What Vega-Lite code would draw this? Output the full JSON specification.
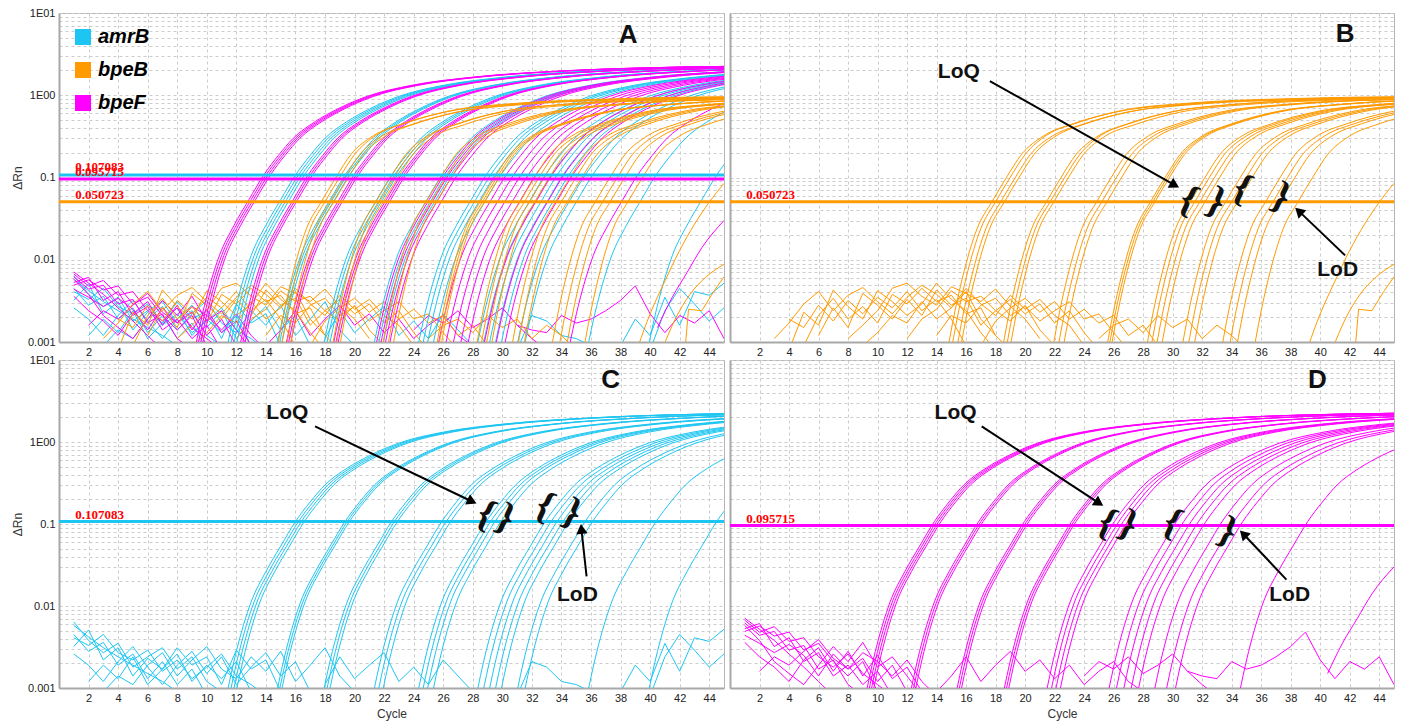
{
"$schema":"https://vega.github.io/schema/vega-lite/v6.json",
"background":"white",
"padding":{"left":10,"top":6,"right":4,"bottom":4},
"config":{
 "view":{"stroke":"#b5b5b5","strokeWidth":1},
 "axis":{"gridColor":"#cccccc","gridDash":[3,3],"gridWidth":1,"domainColor":"#a8a8a8","domainWidth":2,"ticks":false,"labelFont":"Liberation Sans","labelFontSize":11,"labelColor":"#222222","labelPadding":4,"labelOverlap":false,"titleFont":"Liberation Sans","titleFontSize":12,"titleFontWeight":"normal","titleColor":"#333333"},
 "axisY":{"titlePadding":3},
 "axisX":{"titlePadding":5},
 "text":{"font":"Liberation Sans","color":"#111111"}
},
"datasets":{
"bpeB":[
{"s":1,"c":14.55,"v":0.0005},{"s":1,"c":15.25,"v":0.0024},{"s":1,"c":15.75,"v":0.006},{"s":1,"c":16.75,"v":0.024},{"s":1,"c":17.75,"v":0.0507},{"s":1,"c":18.75,"v":0.101},{"s":1,"c":19.75,"v":0.19},{"s":1,"c":21.25,"v":0.32},{"s":1,"c":23.25,"v":0.45},{"s":1,"c":26.25,"v":0.63},{"s":1,"c":30.75,"v":0.78},{"s":1,"c":37.75,"v":0.89},{"s":1,"c":47.75,"v":0.95},
{"s":2,"c":14.8,"v":0.0005},{"s":2,"c":15.5,"v":0.0024},{"s":2,"c":16,"v":0.006},{"s":2,"c":17,"v":0.024},{"s":2,"c":18,"v":0.0507},{"s":2,"c":19,"v":0.101},{"s":2,"c":20,"v":0.19},{"s":2,"c":21.5,"v":0.33},{"s":2,"c":23.5,"v":0.46},{"s":2,"c":26.5,"v":0.65},{"s":2,"c":31,"v":0.8},{"s":2,"c":38,"v":0.91},{"s":2,"c":48,"v":0.97},
{"s":3,"c":15.15,"v":0.0005},{"s":3,"c":15.85,"v":0.0024},{"s":3,"c":16.35,"v":0.006},{"s":3,"c":17.35,"v":0.024},{"s":3,"c":18.35,"v":0.0507},{"s":3,"c":19.35,"v":0.101},{"s":3,"c":20.35,"v":0.19},{"s":3,"c":21.85,"v":0.32},{"s":3,"c":23.85,"v":0.44},{"s":3,"c":26.85,"v":0.62},{"s":3,"c":31.35,"v":0.77},{"s":3,"c":38.35,"v":0.88},{"s":3,"c":48.35,"v":0.94},
{"s":4,"c":15.4,"v":0.0005},{"s":4,"c":16.1,"v":0.0024},{"s":4,"c":16.6,"v":0.006},{"s":4,"c":17.6,"v":0.024},{"s":4,"c":18.6,"v":0.0507},{"s":4,"c":19.6,"v":0.101},{"s":4,"c":20.6,"v":0.19},{"s":4,"c":22.1,"v":0.32},{"s":4,"c":24.1,"v":0.45},{"s":4,"c":27.1,"v":0.63},{"s":4,"c":31.6,"v":0.79},{"s":4,"c":38.6,"v":0.9},{"s":4,"c":48.6,"v":0.96},
{"s":5,"c":18.25,"v":0.0005},{"s":5,"c":18.95,"v":0.0024},{"s":5,"c":19.45,"v":0.006},{"s":5,"c":20.45,"v":0.024},{"s":5,"c":21.45,"v":0.0507},{"s":5,"c":22.45,"v":0.101},{"s":5,"c":23.45,"v":0.19},{"s":5,"c":24.95,"v":0.32},{"s":5,"c":26.95,"v":0.45},{"s":5,"c":29.95,"v":0.63},{"s":5,"c":34.45,"v":0.78},{"s":5,"c":41.45,"v":0.89},{"s":5,"c":51.45,"v":0.95},
{"s":6,"c":18.5,"v":0.0005},{"s":6,"c":19.2,"v":0.0024},{"s":6,"c":19.7,"v":0.006},{"s":6,"c":20.7,"v":0.024},{"s":6,"c":21.7,"v":0.0507},{"s":6,"c":22.7,"v":0.101},{"s":6,"c":23.7,"v":0.19},{"s":6,"c":25.2,"v":0.33},{"s":6,"c":27.2,"v":0.46},{"s":6,"c":30.2,"v":0.64},{"s":6,"c":34.7,"v":0.79},{"s":6,"c":41.7,"v":0.9},{"s":6,"c":51.7,"v":0.96},
{"s":7,"c":18.75,"v":0.0005},{"s":7,"c":19.45,"v":0.0024},{"s":7,"c":19.95,"v":0.006},{"s":7,"c":20.95,"v":0.024},{"s":7,"c":21.95,"v":0.0507},{"s":7,"c":22.95,"v":0.101},{"s":7,"c":23.95,"v":0.19},{"s":7,"c":25.45,"v":0.32},{"s":7,"c":27.45,"v":0.44},{"s":7,"c":30.45,"v":0.62},{"s":7,"c":34.95,"v":0.77},{"s":7,"c":41.95,"v":0.88},{"s":7,"c":51.95,"v":0.94},
{"s":8,"c":21.65,"v":0.0005},{"s":8,"c":22.35,"v":0.0024},{"s":8,"c":22.85,"v":0.006},{"s":8,"c":23.85,"v":0.024},{"s":8,"c":24.85,"v":0.0507},{"s":8,"c":25.85,"v":0.101},{"s":8,"c":26.85,"v":0.19},{"s":8,"c":28.35,"v":0.32},{"s":8,"c":30.35,"v":0.45},{"s":8,"c":33.35,"v":0.63},{"s":8,"c":37.85,"v":0.78},{"s":8,"c":44.85,"v":0.89},{"s":8,"c":54.85,"v":0.95},
{"s":9,"c":22,"v":0.0005},{"s":9,"c":22.7,"v":0.0024},{"s":9,"c":23.2,"v":0.006},{"s":9,"c":24.2,"v":0.024},{"s":9,"c":25.2,"v":0.0507},{"s":9,"c":26.2,"v":0.101},{"s":9,"c":27.2,"v":0.19},{"s":9,"c":28.7,"v":0.32},{"s":9,"c":30.7,"v":0.45},{"s":9,"c":33.7,"v":0.63},{"s":9,"c":38.2,"v":0.78},{"s":9,"c":45.2,"v":0.89},
{"s":10,"c":22.35,"v":0.0005},{"s":10,"c":23.05,"v":0.0024},{"s":10,"c":23.55,"v":0.006},{"s":10,"c":24.55,"v":0.024},{"s":10,"c":25.55,"v":0.0507},{"s":10,"c":26.55,"v":0.101},{"s":10,"c":27.55,"v":0.19},{"s":10,"c":29.05,"v":0.32},{"s":10,"c":31.05,"v":0.45},{"s":10,"c":34.05,"v":0.63},{"s":10,"c":38.55,"v":0.78},{"s":10,"c":45.55,"v":0.89},
{"s":11,"c":25.3,"v":0.0005},{"s":11,"c":26,"v":0.0024},{"s":11,"c":26.5,"v":0.006},{"s":11,"c":27.5,"v":0.024},{"s":11,"c":28.5,"v":0.0507},{"s":11,"c":29.5,"v":0.101},{"s":11,"c":30.5,"v":0.19},{"s":11,"c":32,"v":0.32},{"s":11,"c":34,"v":0.45},{"s":11,"c":37,"v":0.63},{"s":11,"c":41.5,"v":0.78},{"s":11,"c":48.5,"v":0.89},
{"s":12,"c":25.45,"v":0.0005},{"s":12,"c":26.15,"v":0.0024},{"s":12,"c":26.65,"v":0.006},{"s":12,"c":27.65,"v":0.024},{"s":12,"c":28.65,"v":0.0507},{"s":12,"c":29.65,"v":0.101},{"s":12,"c":30.65,"v":0.19},{"s":12,"c":32.15,"v":0.32},{"s":12,"c":34.15,"v":0.45},{"s":12,"c":37.15,"v":0.63},{"s":12,"c":41.65,"v":0.78},{"s":12,"c":48.65,"v":0.89},
{"s":13,"c":25.6,"v":0.0005},{"s":13,"c":26.3,"v":0.0024},{"s":13,"c":26.8,"v":0.006},{"s":13,"c":27.8,"v":0.024},{"s":13,"c":28.8,"v":0.0507},{"s":13,"c":29.8,"v":0.101},{"s":13,"c":30.8,"v":0.19},{"s":13,"c":32.3,"v":0.32},{"s":13,"c":34.3,"v":0.45},{"s":13,"c":37.3,"v":0.63},{"s":13,"c":41.8,"v":0.78},{"s":13,"c":48.8,"v":0.89},
{"s":14,"c":28,"v":0.0005},{"s":14,"c":28.7,"v":0.0024},{"s":14,"c":29.2,"v":0.006},{"s":14,"c":30.2,"v":0.024},{"s":14,"c":31.2,"v":0.0507},{"s":14,"c":32.2,"v":0.101},{"s":14,"c":33.2,"v":0.19},{"s":14,"c":34.7,"v":0.32},{"s":14,"c":36.7,"v":0.45},{"s":14,"c":39.7,"v":0.63},{"s":14,"c":44.2,"v":0.78},{"s":14,"c":51.2,"v":0.89},
{"s":15,"c":28.3,"v":0.0005},{"s":15,"c":29,"v":0.0024},{"s":15,"c":29.5,"v":0.006},{"s":15,"c":30.5,"v":0.024},{"s":15,"c":31.5,"v":0.0507},{"s":15,"c":32.5,"v":0.101},{"s":15,"c":33.5,"v":0.19},{"s":15,"c":35,"v":0.32},{"s":15,"c":37,"v":0.45},{"s":15,"c":40,"v":0.63},{"s":15,"c":44.5,"v":0.78},{"s":15,"c":51.5,"v":0.89},
{"s":16,"c":28.65,"v":0.0005},{"s":16,"c":29.35,"v":0.0024},{"s":16,"c":29.85,"v":0.006},{"s":16,"c":30.85,"v":0.024},{"s":16,"c":31.85,"v":0.0507},{"s":16,"c":32.85,"v":0.101},{"s":16,"c":33.85,"v":0.19},{"s":16,"c":35.35,"v":0.32},{"s":16,"c":37.35,"v":0.45},{"s":16,"c":40.35,"v":0.63},{"s":16,"c":44.85,"v":0.78},{"s":16,"c":51.85,"v":0.89},
{"s":17,"c":29,"v":0.0005},{"s":17,"c":29.7,"v":0.0024},{"s":17,"c":30.2,"v":0.006},{"s":17,"c":31.2,"v":0.024},{"s":17,"c":32.2,"v":0.0507},{"s":17,"c":33.2,"v":0.101},{"s":17,"c":34.2,"v":0.19},{"s":17,"c":35.7,"v":0.32},{"s":17,"c":37.7,"v":0.45},{"s":17,"c":40.7,"v":0.63},{"s":17,"c":45.2,"v":0.78},
{"s":18,"c":30.4,"v":0.0005},{"s":18,"c":31.1,"v":0.0024},{"s":18,"c":31.6,"v":0.006},{"s":18,"c":32.6,"v":0.024},{"s":18,"c":33.6,"v":0.0507},{"s":18,"c":34.6,"v":0.101},{"s":18,"c":35.6,"v":0.19},{"s":18,"c":37.1,"v":0.32},{"s":18,"c":39.1,"v":0.45},{"s":18,"c":42.1,"v":0.63},{"s":18,"c":46.6,"v":0.78},
{"s":19,"c":30.8,"v":0.0005},{"s":19,"c":31.5,"v":0.0024},{"s":19,"c":32,"v":0.006},{"s":19,"c":33,"v":0.024},{"s":19,"c":34,"v":0.0507},{"s":19,"c":35,"v":0.101},{"s":19,"c":36,"v":0.19},{"s":19,"c":37.5,"v":0.32},{"s":19,"c":39.5,"v":0.45},{"s":19,"c":42.5,"v":0.63},{"s":19,"c":47,"v":0.78},
{"s":20,"c":31.2,"v":0.0005},{"s":20,"c":31.9,"v":0.0024},{"s":20,"c":32.4,"v":0.006},{"s":20,"c":33.4,"v":0.024},{"s":20,"c":34.4,"v":0.0507},{"s":20,"c":35.4,"v":0.101},{"s":20,"c":36.4,"v":0.19},{"s":20,"c":37.9,"v":0.32},{"s":20,"c":39.9,"v":0.45},{"s":20,"c":42.9,"v":0.63},{"s":20,"c":47.4,"v":0.78},
{"s":21,"c":33.1,"v":0.0005},{"s":21,"c":33.8,"v":0.0024},{"s":21,"c":34.3,"v":0.006},{"s":21,"c":35.3,"v":0.024},{"s":21,"c":36.3,"v":0.0507},{"s":21,"c":37.3,"v":0.101},{"s":21,"c":38.3,"v":0.19},{"s":21,"c":39.8,"v":0.32},{"s":21,"c":41.8,"v":0.45},{"s":21,"c":44.8,"v":0.63},{"s":21,"c":49.3,"v":0.78},
{"s":22,"c":33.6,"v":0.0005},{"s":22,"c":34.3,"v":0.0024},{"s":22,"c":34.8,"v":0.006},{"s":22,"c":35.8,"v":0.024},{"s":22,"c":36.8,"v":0.0507},{"s":22,"c":37.8,"v":0.101},{"s":22,"c":38.8,"v":0.19},{"s":22,"c":40.3,"v":0.32},{"s":22,"c":42.3,"v":0.45},{"s":22,"c":45.3,"v":0.63},
{"s":23,"c":34.1,"v":0.0005},{"s":23,"c":34.8,"v":0.0024},{"s":23,"c":35.3,"v":0.006},{"s":23,"c":36.3,"v":0.024},{"s":23,"c":37.3,"v":0.0507},{"s":23,"c":38.3,"v":0.101},{"s":23,"c":39.3,"v":0.19},{"s":23,"c":40.8,"v":0.32},{"s":23,"c":42.8,"v":0.45},{"s":23,"c":45.8,"v":0.63},
{"s":24,"c":35.3,"v":0.0005},{"s":24,"c":36,"v":0.0024},{"s":24,"c":36.5,"v":0.006},{"s":24,"c":37.5,"v":0.024},{"s":24,"c":38.5,"v":0.0507},{"s":24,"c":39.5,"v":0.101},{"s":24,"c":40.5,"v":0.19},{"s":24,"c":42,"v":0.32},{"s":24,"c":44,"v":0.45},{"s":24,"c":47,"v":0.63},
{"s":25,"c":39.2,"v":0.0009},{"s":25,"c":40,"v":0.0022},{"s":25,"c":41,"v":0.0055},{"s":25,"c":42,"v":0.013},{"s":25,"c":43,"v":0.027},{"s":25,"c":44,"v":0.05},{"s":25,"c":45,"v":0.085},
{"s":26,"c":40.8,"v":0.0008},{"s":26,"c":41.7,"v":0.0019},{"s":26,"c":42.7,"v":0.0038},{"s":26,"c":43.8,"v":0.0062},{"s":26,"c":45,"v":0.0088}
],
"bpeBn":[
{"s":1,"c":4,"v":0.0019},{"s":1,"c":5,"v":0.0015},{"s":1,"c":6,"v":0.0028},{"s":1,"c":7,"v":0.0018},{"s":1,"c":8,"v":0.0032},{"s":1,"c":9,"v":0.0022},{"s":1,"c":10,"v":0.0035},{"s":1,"c":11,"v":0.0026},{"s":1,"c":12,"v":0.0041},{"s":1,"c":13,"v":0.0024},{"s":1,"c":14,"v":0.0033},{"s":1,"c":15,"v":0.0019},{"s":1,"c":16,"v":0.0009},
{"s":2,"c":5,"v":0.0009},{"s":2,"c":6,"v":0.0021},{"s":2,"c":7,"v":0.0034},{"s":2,"c":8,"v":0.0019},{"s":2,"c":9,"v":0.0027},{"s":2,"c":10,"v":0.0017},{"s":2,"c":11,"v":0.0038},{"s":2,"c":12,"v":0.0029},{"s":2,"c":13,"v":0.0045},{"s":2,"c":14,"v":0.0031},{"s":2,"c":15,"v":0.0037},{"s":2,"c":16,"v":0.0022},{"s":2,"c":17,"v":0.0026},{"s":2,"c":18,"v":0.0012},{"s":2,"c":19,"v":0.0008},
{"s":3,"c":6,"v":0.0012},{"s":3,"c":7,"v":0.0026},{"s":3,"c":8,"v":0.0015},{"s":3,"c":9,"v":0.0039},{"s":3,"c":10,"v":0.0028},{"s":3,"c":11,"v":0.0019},{"s":3,"c":12,"v":0.0033},{"s":3,"c":13,"v":0.0021},{"s":3,"c":14,"v":0.0043},{"s":3,"c":15,"v":0.0028},{"s":3,"c":16,"v":0.0034},{"s":3,"c":17,"v":0.0016},{"s":3,"c":18,"v":0.0024},{"s":3,"c":19,"v":0.0018},{"s":3,"c":20,"v":0.0028},{"s":3,"c":21,"v":0.0014},{"s":3,"c":22,"v":0.0009},
{"s":4,"c":12,"v":0.0011},{"s":4,"c":13,"v":0.0019},{"s":4,"c":14,"v":0.0025},{"s":4,"c":15,"v":0.0042},{"s":4,"c":16,"v":0.0031},{"s":4,"c":17,"v":0.0036},{"s":4,"c":18,"v":0.0024},{"s":4,"c":19,"v":0.0033},{"s":4,"c":20,"v":0.0022},{"s":4,"c":21,"v":0.0029},{"s":4,"c":22,"v":0.0017},{"s":4,"c":23,"v":0.0024},{"s":4,"c":24,"v":0.0013},{"s":4,"c":25,"v":0.0008},
{"s":5,"c":17,"v":0.0009},{"s":5,"c":18,"v":0.0018},{"s":5,"c":19,"v":0.0026},{"s":5,"c":20,"v":0.0034},{"s":5,"c":21,"v":0.0023},{"s":5,"c":22,"v":0.0031},{"s":5,"c":23,"v":0.0019},{"s":5,"c":24,"v":0.0025},{"s":5,"c":25,"v":0.0017},{"s":5,"c":26,"v":0.0021},{"s":5,"c":27,"v":0.0012},{"s":5,"c":28,"v":0.0016},{"s":5,"c":29,"v":0.0009},
{"s":6,"c":8,"v":0.0011},{"s":6,"c":9,"v":0.0016},{"s":6,"c":10,"v":0.0024},{"s":6,"c":11,"v":0.0045},{"s":6,"c":12,"v":0.0052},{"s":6,"c":13,"v":0.0036},{"s":6,"c":14,"v":0.0028},{"s":6,"c":15,"v":0.0047},{"s":6,"c":16,"v":0.0039},{"s":6,"c":17,"v":0.0031},{"s":6,"c":18,"v":0.0044},{"s":6,"c":19,"v":0.0027},{"s":6,"c":20,"v":0.0019},{"s":6,"c":21,"v":0.0011},
{"s":7,"c":25,"v":0.0011},{"s":7,"c":26,"v":0.0016},{"s":7,"c":27,"v":0.0019},{"s":7,"c":28,"v":0.0013},{"s":7,"c":29,"v":0.0021},{"s":7,"c":30,"v":0.0015},{"s":7,"c":31,"v":0.0019},{"s":7,"c":32,"v":0.0011},{"s":7,"c":33,"v":0.0016},{"s":7,"c":34,"v":0.0012},{"s":7,"c":35,"v":0.0008},
{"s":8,"c":42.3,"v":0.0006},{"s":8,"c":42.6,"v":0.0025},{"s":8,"c":43.5,"v":0.0024},{"s":8,"c":44.3,"v":0.0041},{"s":8,"c":45,"v":0.0062},
{"s":9,"c":3,"v":0.0011},{"s":9,"c":4,"v":0.0017},{"s":9,"c":5,"v":0.0029},{"s":9,"c":6,"v":0.0041},{"s":9,"c":7,"v":0.0024},{"s":9,"c":8,"v":0.0037},{"s":9,"c":9,"v":0.0046},{"s":9,"c":10,"v":0.0031},{"s":9,"c":11,"v":0.0022},{"s":9,"c":12,"v":0.0035},{"s":9,"c":13,"v":0.0049},{"s":9,"c":14,"v":0.0038},{"s":9,"c":15,"v":0.0026},{"s":9,"c":16,"v":0.0041},{"s":9,"c":17,"v":0.0019},{"s":9,"c":18,"v":0.0012},
{"s":10,"c":4,"v":0.0008},{"s":10,"c":5,"v":0.0023},{"s":10,"c":6,"v":0.0016},{"s":10,"c":7,"v":0.0043},{"s":10,"c":8,"v":0.0027},{"s":10,"c":9,"v":0.0019},{"s":10,"c":10,"v":0.0042},{"s":10,"c":11,"v":0.0031},{"s":10,"c":12,"v":0.0021},{"s":10,"c":13,"v":0.0029},{"s":10,"c":14,"v":0.0052},{"s":10,"c":15,"v":0.0033},{"s":10,"c":16,"v":0.0024},{"s":10,"c":17,"v":0.0013},{"s":10,"c":18,"v":0.0008},
{"s":11,"c":9,"v":0.0009},{"s":11,"c":10,"v":0.0013},{"s":11,"c":11,"v":0.0021},{"s":11,"c":12,"v":0.0017},{"s":11,"c":13,"v":0.0031},{"s":11,"c":14,"v":0.0019},{"s":11,"c":15,"v":0.0026},{"s":11,"c":16,"v":0.0045},{"s":11,"c":17,"v":0.0029},{"s":11,"c":18,"v":0.0021},{"s":11,"c":19,"v":0.0037},{"s":11,"c":20,"v":0.0025},{"s":11,"c":21,"v":0.0033},{"s":11,"c":22,"v":0.0021},{"s":11,"c":23,"v":0.0016},{"s":11,"c":24,"v":0.0009},
{"s":12,"c":14,"v":0.0012},{"s":12,"c":15,"v":0.0021},{"s":12,"c":16,"v":0.0017},{"s":12,"c":17,"v":0.0028},{"s":12,"c":18,"v":0.0034},{"s":12,"c":19,"v":0.0021},{"s":12,"c":20,"v":0.0027},{"s":12,"c":21,"v":0.0018},{"s":12,"c":22,"v":0.0024},{"s":12,"c":23,"v":0.0031},{"s":12,"c":24,"v":0.0019},{"s":12,"c":25,"v":0.0022},{"s":12,"c":26,"v":0.0013},{"s":12,"c":27,"v":0.0008}
],
"amrB":[
{"s":1,"c":11,"v":0.0004},{"s":1,"c":12,"v":0.0028},{"s":1,"c":13,"v":0.0112},{"s":1,"c":14,"v":0.0263},{"s":1,"c":15,"v":0.0537},{"s":1,"c":16,"v":0.107},{"s":1,"c":17,"v":0.186},{"s":1,"c":18,"v":0.3},{"s":1,"c":19.5,"v":0.48},{"s":1,"c":21,"v":0.68},{"s":1,"c":23,"v":0.97},{"s":1,"c":26,"v":1.32},{"s":1,"c":30,"v":1.65},{"s":1,"c":36,"v":1.97},{"s":1,"c":44,"v":2.2},{"s":1,"c":52,"v":2.28},
{"s":2,"c":11.2,"v":0.0004},{"s":2,"c":12.2,"v":0.0028},{"s":2,"c":13.2,"v":0.0112},{"s":2,"c":14.2,"v":0.0263},{"s":2,"c":15.2,"v":0.0537},{"s":2,"c":16.2,"v":0.107},{"s":2,"c":17.2,"v":0.186},{"s":2,"c":18.2,"v":0.3},{"s":2,"c":19.7,"v":0.48},{"s":2,"c":21.2,"v":0.68},{"s":2,"c":23.2,"v":0.97},{"s":2,"c":26.2,"v":1.32},{"s":2,"c":30.2,"v":1.65},{"s":2,"c":36.2,"v":1.97},{"s":2,"c":44.2,"v":2.2},{"s":2,"c":52.2,"v":2.28},
{"s":3,"c":11.4,"v":0.0004},{"s":3,"c":12.4,"v":0.0028},{"s":3,"c":13.4,"v":0.0112},{"s":3,"c":14.4,"v":0.0263},{"s":3,"c":15.4,"v":0.0537},{"s":3,"c":16.4,"v":0.107},{"s":3,"c":17.4,"v":0.186},{"s":3,"c":18.4,"v":0.3},{"s":3,"c":19.9,"v":0.48},{"s":3,"c":21.4,"v":0.68},{"s":3,"c":23.4,"v":0.97},{"s":3,"c":26.4,"v":1.32},{"s":3,"c":30.4,"v":1.65},{"s":3,"c":36.4,"v":1.97},{"s":3,"c":44.4,"v":2.2},{"s":3,"c":52.4,"v":2.28},
{"s":4,"c":11.6,"v":0.0004},{"s":4,"c":12.6,"v":0.0028},{"s":4,"c":13.6,"v":0.0112},{"s":4,"c":14.6,"v":0.0263},{"s":4,"c":15.6,"v":0.0537},{"s":4,"c":16.6,"v":0.107},{"s":4,"c":17.6,"v":0.186},{"s":4,"c":18.6,"v":0.3},{"s":4,"c":20.1,"v":0.48},{"s":4,"c":21.6,"v":0.68},{"s":4,"c":23.6,"v":0.97},{"s":4,"c":26.6,"v":1.32},{"s":4,"c":30.6,"v":1.65},{"s":4,"c":36.6,"v":1.97},{"s":4,"c":44.6,"v":2.2},{"s":4,"c":52.6,"v":2.28},
{"s":5,"c":14.35,"v":0.0004},{"s":5,"c":15.35,"v":0.0028},{"s":5,"c":16.35,"v":0.0112},{"s":5,"c":17.35,"v":0.0263},{"s":5,"c":18.35,"v":0.0537},{"s":5,"c":19.35,"v":0.107},{"s":5,"c":20.35,"v":0.186},{"s":5,"c":21.35,"v":0.3},{"s":5,"c":22.85,"v":0.48},{"s":5,"c":24.35,"v":0.68},{"s":5,"c":26.35,"v":0.97},{"s":5,"c":29.35,"v":1.32},{"s":5,"c":33.35,"v":1.65},{"s":5,"c":39.35,"v":1.97},{"s":5,"c":47.35,"v":2.2},
{"s":6,"c":14.5,"v":0.0004},{"s":6,"c":15.5,"v":0.0028},{"s":6,"c":16.5,"v":0.0112},{"s":6,"c":17.5,"v":0.0263},{"s":6,"c":18.5,"v":0.0537},{"s":6,"c":19.5,"v":0.107},{"s":6,"c":20.5,"v":0.186},{"s":6,"c":21.5,"v":0.3},{"s":6,"c":23,"v":0.48},{"s":6,"c":24.5,"v":0.68},{"s":6,"c":26.5,"v":0.97},{"s":6,"c":29.5,"v":1.32},{"s":6,"c":33.5,"v":1.65},{"s":6,"c":39.5,"v":1.97},{"s":6,"c":47.5,"v":2.2},
{"s":7,"c":14.65,"v":0.0004},{"s":7,"c":15.65,"v":0.0028},{"s":7,"c":16.65,"v":0.0112},{"s":7,"c":17.65,"v":0.0263},{"s":7,"c":18.65,"v":0.0537},{"s":7,"c":19.65,"v":0.107},{"s":7,"c":20.65,"v":0.186},{"s":7,"c":21.65,"v":0.3},{"s":7,"c":23.15,"v":0.48},{"s":7,"c":24.65,"v":0.68},{"s":7,"c":26.65,"v":0.97},{"s":7,"c":29.65,"v":1.32},{"s":7,"c":33.65,"v":1.65},{"s":7,"c":39.65,"v":1.97},{"s":7,"c":47.65,"v":2.2},
{"s":8,"c":17.5,"v":0.0004},{"s":8,"c":18.5,"v":0.0028},{"s":8,"c":19.5,"v":0.0112},{"s":8,"c":20.5,"v":0.0263},{"s":8,"c":21.5,"v":0.0537},{"s":8,"c":22.5,"v":0.107},{"s":8,"c":23.5,"v":0.186},{"s":8,"c":24.5,"v":0.3},{"s":8,"c":26,"v":0.48},{"s":8,"c":27.5,"v":0.68},{"s":8,"c":29.5,"v":0.97},{"s":8,"c":32.5,"v":1.32},{"s":8,"c":36.5,"v":1.65},{"s":8,"c":42.5,"v":1.97},{"s":8,"c":50.5,"v":2.2},
{"s":9,"c":17.7,"v":0.0004},{"s":9,"c":18.7,"v":0.0028},{"s":9,"c":19.7,"v":0.0112},{"s":9,"c":20.7,"v":0.0263},{"s":9,"c":21.7,"v":0.0537},{"s":9,"c":22.7,"v":0.107},{"s":9,"c":23.7,"v":0.186},{"s":9,"c":24.7,"v":0.3},{"s":9,"c":26.2,"v":0.48},{"s":9,"c":27.7,"v":0.68},{"s":9,"c":29.7,"v":0.97},{"s":9,"c":32.7,"v":1.32},{"s":9,"c":36.7,"v":1.65},{"s":9,"c":42.7,"v":1.97},{"s":9,"c":50.7,"v":2.2},
{"s":10,"c":17.9,"v":0.0004},{"s":10,"c":18.9,"v":0.0028},{"s":10,"c":19.9,"v":0.0112},{"s":10,"c":20.9,"v":0.0263},{"s":10,"c":21.9,"v":0.0537},{"s":10,"c":22.9,"v":0.107},{"s":10,"c":23.9,"v":0.186},{"s":10,"c":24.9,"v":0.3},{"s":10,"c":26.4,"v":0.48},{"s":10,"c":27.9,"v":0.68},{"s":10,"c":29.9,"v":0.97},{"s":10,"c":32.9,"v":1.32},{"s":10,"c":36.9,"v":1.65},{"s":10,"c":42.9,"v":1.97},{"s":10,"c":50.9,"v":2.2},
{"s":11,"c":20.9,"v":0.0004},{"s":11,"c":21.9,"v":0.0028},{"s":11,"c":22.9,"v":0.0112},{"s":11,"c":23.9,"v":0.0263},{"s":11,"c":24.9,"v":0.0537},{"s":11,"c":25.9,"v":0.107},{"s":11,"c":26.9,"v":0.186},{"s":11,"c":27.9,"v":0.3},{"s":11,"c":29.4,"v":0.48},{"s":11,"c":30.9,"v":0.68},{"s":11,"c":32.9,"v":0.97},{"s":11,"c":35.9,"v":1.32},{"s":11,"c":39.9,"v":1.65},{"s":11,"c":45.9,"v":1.97},
{"s":12,"c":21.2,"v":0.0004},{"s":12,"c":22.2,"v":0.0028},{"s":12,"c":23.2,"v":0.0112},{"s":12,"c":24.2,"v":0.0263},{"s":12,"c":25.2,"v":0.0537},{"s":12,"c":26.2,"v":0.107},{"s":12,"c":27.2,"v":0.186},{"s":12,"c":28.2,"v":0.3},{"s":12,"c":29.7,"v":0.48},{"s":12,"c":31.2,"v":0.68},{"s":12,"c":33.2,"v":0.97},{"s":12,"c":36.2,"v":1.32},{"s":12,"c":40.2,"v":1.65},{"s":12,"c":46.2,"v":1.97},
{"s":13,"c":21.5,"v":0.0004},{"s":13,"c":22.5,"v":0.0028},{"s":13,"c":23.5,"v":0.0112},{"s":13,"c":24.5,"v":0.0263},{"s":13,"c":25.5,"v":0.0537},{"s":13,"c":26.5,"v":0.107},{"s":13,"c":27.5,"v":0.186},{"s":13,"c":28.5,"v":0.3},{"s":13,"c":30,"v":0.48},{"s":13,"c":31.5,"v":0.68},{"s":13,"c":33.5,"v":0.97},{"s":13,"c":36.5,"v":1.32},{"s":13,"c":40.5,"v":1.65},{"s":13,"c":46.5,"v":1.97},
{"s":14,"c":23.9,"v":0.0004},{"s":14,"c":24.9,"v":0.0028},{"s":14,"c":25.9,"v":0.0112},{"s":14,"c":26.9,"v":0.0263},{"s":14,"c":27.9,"v":0.0537},{"s":14,"c":28.9,"v":0.107},{"s":14,"c":29.9,"v":0.186},{"s":14,"c":30.9,"v":0.3},{"s":14,"c":32.4,"v":0.48},{"s":14,"c":33.9,"v":0.68},{"s":14,"c":35.9,"v":0.97},{"s":14,"c":38.9,"v":1.32},{"s":14,"c":42.9,"v":1.65},{"s":14,"c":48.9,"v":1.97},
{"s":15,"c":24.2,"v":0.0004},{"s":15,"c":25.2,"v":0.0028},{"s":15,"c":26.2,"v":0.0112},{"s":15,"c":27.2,"v":0.0263},{"s":15,"c":28.2,"v":0.0537},{"s":15,"c":29.2,"v":0.107},{"s":15,"c":30.2,"v":0.186},{"s":15,"c":31.2,"v":0.3},{"s":15,"c":32.7,"v":0.48},{"s":15,"c":34.2,"v":0.68},{"s":15,"c":36.2,"v":0.97},{"s":15,"c":39.2,"v":1.32},{"s":15,"c":43.2,"v":1.65},{"s":15,"c":49.2,"v":1.97},
{"s":16,"c":24.5,"v":0.0004},{"s":16,"c":25.5,"v":0.0028},{"s":16,"c":26.5,"v":0.0112},{"s":16,"c":27.5,"v":0.0263},{"s":16,"c":28.5,"v":0.0537},{"s":16,"c":29.5,"v":0.107},{"s":16,"c":30.5,"v":0.186},{"s":16,"c":31.5,"v":0.3},{"s":16,"c":33,"v":0.48},{"s":16,"c":34.5,"v":0.68},{"s":16,"c":36.5,"v":0.97},{"s":16,"c":39.5,"v":1.32},{"s":16,"c":43.5,"v":1.65},{"s":16,"c":49.5,"v":1.97},
{"s":17,"c":24.9,"v":0.0004},{"s":17,"c":25.9,"v":0.0028},{"s":17,"c":26.9,"v":0.0112},{"s":17,"c":27.9,"v":0.0263},{"s":17,"c":28.9,"v":0.0537},{"s":17,"c":29.9,"v":0.107},{"s":17,"c":30.9,"v":0.186},{"s":17,"c":31.9,"v":0.3},{"s":17,"c":33.4,"v":0.48},{"s":17,"c":34.9,"v":0.68},{"s":17,"c":36.9,"v":0.97},{"s":17,"c":39.9,"v":1.32},{"s":17,"c":43.9,"v":1.65},{"s":17,"c":49.9,"v":1.97},
{"s":18,"c":27.9,"v":0.0004},{"s":18,"c":28.9,"v":0.0028},{"s":18,"c":29.9,"v":0.0112},{"s":18,"c":30.9,"v":0.0263},{"s":18,"c":31.9,"v":0.0537},{"s":18,"c":32.9,"v":0.107},{"s":18,"c":33.9,"v":0.186},{"s":18,"c":34.9,"v":0.3},{"s":18,"c":36.4,"v":0.48},{"s":18,"c":37.9,"v":0.68},{"s":18,"c":39.9,"v":0.97},{"s":18,"c":42.9,"v":1.32},{"s":18,"c":46.9,"v":1.65},
{"s":19,"c":28.3,"v":0.0004},{"s":19,"c":29.3,"v":0.0028},{"s":19,"c":30.3,"v":0.0112},{"s":19,"c":31.3,"v":0.0263},{"s":19,"c":32.3,"v":0.0537},{"s":19,"c":33.3,"v":0.107},{"s":19,"c":34.3,"v":0.186},{"s":19,"c":35.3,"v":0.3},{"s":19,"c":36.8,"v":0.48},{"s":19,"c":38.3,"v":0.68},{"s":19,"c":40.3,"v":0.97},{"s":19,"c":43.3,"v":1.32},{"s":19,"c":47.3,"v":1.65},
{"s":20,"c":28.7,"v":0.0004},{"s":20,"c":29.7,"v":0.0028},{"s":20,"c":30.7,"v":0.0112},{"s":20,"c":31.7,"v":0.0263},{"s":20,"c":32.7,"v":0.0537},{"s":20,"c":33.7,"v":0.107},{"s":20,"c":34.7,"v":0.186},{"s":20,"c":35.7,"v":0.3},{"s":20,"c":37.2,"v":0.48},{"s":20,"c":38.7,"v":0.68},{"s":20,"c":40.7,"v":0.97},{"s":20,"c":43.7,"v":1.32},{"s":20,"c":47.7,"v":1.65},
{"s":21,"c":29.1,"v":0.0004},{"s":21,"c":30.1,"v":0.0028},{"s":21,"c":31.1,"v":0.0112},{"s":21,"c":32.1,"v":0.0263},{"s":21,"c":33.1,"v":0.0537},{"s":21,"c":34.1,"v":0.107},{"s":21,"c":35.1,"v":0.186},{"s":21,"c":36.1,"v":0.3},{"s":21,"c":37.6,"v":0.48},{"s":21,"c":39.1,"v":0.68},{"s":21,"c":41.1,"v":0.97},{"s":21,"c":44.1,"v":1.32},{"s":21,"c":48.1,"v":1.65},
{"s":22,"c":29.5,"v":0.0004},{"s":22,"c":30.5,"v":0.0028},{"s":22,"c":31.5,"v":0.0112},{"s":22,"c":32.5,"v":0.0263},{"s":22,"c":33.5,"v":0.0537},{"s":22,"c":34.5,"v":0.107},{"s":22,"c":35.5,"v":0.186},{"s":22,"c":36.5,"v":0.3},{"s":22,"c":38,"v":0.48},{"s":22,"c":39.5,"v":0.68},{"s":22,"c":41.5,"v":0.97},{"s":22,"c":44.5,"v":1.32},{"s":22,"c":48.5,"v":1.65},
{"s":23,"c":30.6,"v":0.0004},{"s":23,"c":31.6,"v":0.0028},{"s":23,"c":32.6,"v":0.0112},{"s":23,"c":33.6,"v":0.0263},{"s":23,"c":34.6,"v":0.0537},{"s":23,"c":35.6,"v":0.107},{"s":23,"c":36.6,"v":0.186},{"s":23,"c":37.6,"v":0.3},{"s":23,"c":39.1,"v":0.48},{"s":23,"c":40.6,"v":0.68},{"s":23,"c":42.6,"v":0.97},{"s":23,"c":45.6,"v":1.32},
{"s":24,"c":31.1,"v":0.0004},{"s":24,"c":32.1,"v":0.0028},{"s":24,"c":33.1,"v":0.0112},{"s":24,"c":34.1,"v":0.0263},{"s":24,"c":35.1,"v":0.0537},{"s":24,"c":36.1,"v":0.107},{"s":24,"c":37.1,"v":0.186},{"s":24,"c":38.1,"v":0.3},{"s":24,"c":39.6,"v":0.48},{"s":24,"c":41.1,"v":0.68},{"s":24,"c":43.1,"v":0.97},{"s":24,"c":46.1,"v":1.32},
{"s":25,"c":35.4,"v":0.0004},{"s":25,"c":36.4,"v":0.0028},{"s":25,"c":37.4,"v":0.0112},{"s":25,"c":38.4,"v":0.0263},{"s":25,"c":39.4,"v":0.0537},{"s":25,"c":40.4,"v":0.107},{"s":25,"c":41.4,"v":0.186},{"s":25,"c":42.4,"v":0.3},{"s":25,"c":43.9,"v":0.48},{"s":25,"c":45.4,"v":0.68},
{"s":26,"c":39.5,"v":0.0004},{"s":26,"c":40.5,"v":0.0028},{"s":26,"c":41.5,"v":0.0112},{"s":26,"c":42.5,"v":0.0263},{"s":26,"c":43.5,"v":0.0537},{"s":26,"c":44.5,"v":0.107},{"s":26,"c":45.5,"v":0.186}
],
"amrBn":[
{"s":1,"c":1,"v":0.0058},{"s":1,"c":2,"v":0.0042},{"s":1,"c":3,"v":0.0031},{"s":1,"c":4,"v":0.0024},{"s":1,"c":5,"v":0.0019},{"s":1,"c":6,"v":0.0015},{"s":1,"c":7,"v":0.0012},{"s":1,"c":8,"v":0.0009},
{"s":2,"c":1,"v":0.0045},{"s":2,"c":2,"v":0.0028},{"s":2,"c":3,"v":0.0036},{"s":2,"c":4,"v":0.0019},{"s":2,"c":5,"v":0.0026},{"s":2,"c":6,"v":0.0013},{"s":2,"c":7,"v":0.0021},{"s":2,"c":8,"v":0.0011},{"s":2,"c":9,"v":0.0017},{"s":2,"c":10,"v":0.0008},
{"s":3,"c":1,"v":0.0032},{"s":3,"c":2,"v":0.0051},{"s":3,"c":3,"v":0.0022},{"s":3,"c":4,"v":0.0031},{"s":3,"c":5,"v":0.0014},{"s":3,"c":6,"v":0.0023},{"s":3,"c":7,"v":0.0017},{"s":3,"c":8,"v":0.0026},{"s":3,"c":9,"v":0.0012},{"s":3,"c":10,"v":0.0019},{"s":3,"c":11,"v":0.0013},{"s":3,"c":12,"v":0.0021},{"s":3,"c":13,"v":0.0009},
{"s":4,"c":1,"v":0.0026},{"s":4,"c":2,"v":0.0019},{"s":4,"c":3,"v":0.0012},{"s":4,"c":4,"v":0.0021},{"s":4,"c":5,"v":0.0032},{"s":4,"c":6,"v":0.0018},{"s":4,"c":7,"v":0.0011},{"s":4,"c":8,"v":0.0019},{"s":4,"c":9,"v":0.0028},{"s":4,"c":10,"v":0.0015},{"s":4,"c":11,"v":0.0024},{"s":4,"c":12,"v":0.0011},{"s":4,"c":13,"v":0.0018},{"s":4,"c":14,"v":0.0027},{"s":4,"c":15,"v":0.0014},{"s":4,"c":16,"v":0.0021},{"s":4,"c":17,"v":0.0009},
{"s":5,"c":3,"v":0.0009},{"s":5,"c":4,"v":0.0014},{"s":5,"c":5,"v":0.0011},{"s":5,"c":6,"v":0.0019},{"s":5,"c":7,"v":0.0027},{"s":5,"c":8,"v":0.0014},{"s":5,"c":9,"v":0.0022},{"s":5,"c":10,"v":0.0032},{"s":5,"c":11,"v":0.0017},{"s":5,"c":12,"v":0.0013},{"s":5,"c":13,"v":0.0024},{"s":5,"c":14,"v":0.0016},{"s":5,"c":15,"v":0.0028},{"s":5,"c":16,"v":0.0012},{"s":5,"c":17,"v":0.0019},{"s":5,"c":18,"v":0.0031},{"s":5,"c":19,"v":0.0014},{"s":5,"c":20,"v":0.0009},
{"s":6,"c":18,"v":0.0011},{"s":6,"c":19,"v":0.0024},{"s":6,"c":20,"v":0.0013},{"s":6,"c":21,"v":0.0019},{"s":6,"c":22,"v":0.0027},{"s":6,"c":23,"v":0.0012},{"s":6,"c":24,"v":0.0018},{"s":6,"c":25,"v":0.0011},{"s":6,"c":26,"v":0.0022},{"s":6,"c":27,"v":0.0014},{"s":6,"c":28,"v":0.0009},
{"s":7,"c":31,"v":0.0008},{"s":7,"c":32,"v":0.0021},{"s":7,"c":33,"v":0.0018},{"s":7,"c":34,"v":0.0012},{"s":7,"c":35,"v":0.0011},{"s":7,"c":36,"v":0.0009},
{"s":8,"c":38,"v":0.0009},{"s":8,"c":39,"v":0.0019},{"s":8,"c":40,"v":0.0012},{"s":8,"c":41,"v":0.0035},{"s":8,"c":42,"v":0.0016},{"s":8,"c":43,"v":0.0041},{"s":8,"c":44,"v":0.0037},{"s":8,"c":45,"v":0.0052},
{"s":9,"c":40,"v":0.0008},{"s":9,"c":41,"v":0.0024},{"s":9,"c":42,"v":0.0045},{"s":9,"c":43,"v":0.0029},{"s":9,"c":44,"v":0.0018},{"s":9,"c":45,"v":0.0026},
{"s":10,"c":1,"v":0.0041},{"s":10,"c":2,"v":0.0033},{"s":10,"c":3,"v":0.0045},{"s":10,"c":4,"v":0.0027},{"s":10,"c":5,"v":0.0022},{"s":10,"c":6,"v":0.0029},{"s":10,"c":7,"v":0.0016},{"s":10,"c":8,"v":0.0022},{"s":10,"c":9,"v":0.0013},{"s":10,"c":10,"v":0.0018},{"s":10,"c":11,"v":0.0026},{"s":10,"c":12,"v":0.0014},{"s":10,"c":13,"v":0.0011},{"s":10,"c":14,"v":0.0008},
{"s":11,"c":1,"v":0.0064},{"s":11,"c":2,"v":0.0038},{"s":11,"c":3,"v":0.0027},{"s":11,"c":4,"v":0.0035},{"s":11,"c":5,"v":0.0018},{"s":11,"c":6,"v":0.0024},{"s":11,"c":7,"v":0.0031},{"s":11,"c":8,"v":0.0017},{"s":11,"c":9,"v":0.0024},{"s":11,"c":10,"v":0.0012},{"s":11,"c":11,"v":0.0009},
{"s":12,"c":2,"v":0.0012},{"s":12,"c":3,"v":0.0019},{"s":12,"c":4,"v":0.0013},{"s":12,"c":5,"v":0.0024},{"s":12,"c":6,"v":0.0011},{"s":12,"c":7,"v":0.0017},{"s":12,"c":8,"v":0.0031},{"s":12,"c":9,"v":0.0019},{"s":12,"c":10,"v":0.0024},{"s":12,"c":11,"v":0.0011},{"s":12,"c":12,"v":0.0029},{"s":12,"c":13,"v":0.0017},{"s":12,"c":14,"v":0.0022},{"s":12,"c":15,"v":0.0009}
],
"bpeF":[
{"s":1,"c":8.85,"v":0.0004},{"s":1,"c":9.85,"v":0.0028},{"s":1,"c":10.85,"v":0.0112},{"s":1,"c":11.85,"v":0.0263},{"s":1,"c":12.85,"v":0.0537},{"s":1,"c":13.85,"v":0.107},{"s":1,"c":14.85,"v":0.186},{"s":1,"c":15.85,"v":0.3},{"s":1,"c":17.35,"v":0.48},{"s":1,"c":18.85,"v":0.68},{"s":1,"c":20.85,"v":0.97},{"s":1,"c":23.85,"v":1.32},{"s":1,"c":27.85,"v":1.65},{"s":1,"c":33.85,"v":1.97},{"s":1,"c":41.85,"v":2.2},{"s":1,"c":49.85,"v":2.28},
{"s":2,"c":9,"v":0.0004},{"s":2,"c":10,"v":0.0028},{"s":2,"c":11,"v":0.0112},{"s":2,"c":12,"v":0.0263},{"s":2,"c":13,"v":0.0537},{"s":2,"c":14,"v":0.107},{"s":2,"c":15,"v":0.186},{"s":2,"c":16,"v":0.3},{"s":2,"c":17.5,"v":0.48},{"s":2,"c":19,"v":0.68},{"s":2,"c":21,"v":0.97},{"s":2,"c":24,"v":1.32},{"s":2,"c":28,"v":1.65},{"s":2,"c":34,"v":1.97},{"s":2,"c":42,"v":2.2},{"s":2,"c":50,"v":2.28},
{"s":3,"c":9.15,"v":0.0004},{"s":3,"c":10.15,"v":0.0028},{"s":3,"c":11.15,"v":0.0112},{"s":3,"c":12.15,"v":0.0263},{"s":3,"c":13.15,"v":0.0537},{"s":3,"c":14.15,"v":0.107},{"s":3,"c":15.15,"v":0.186},{"s":3,"c":16.15,"v":0.3},{"s":3,"c":17.65,"v":0.48},{"s":3,"c":19.15,"v":0.68},{"s":3,"c":21.15,"v":0.97},{"s":3,"c":24.15,"v":1.32},{"s":3,"c":28.15,"v":1.65},{"s":3,"c":34.15,"v":1.97},{"s":3,"c":42.15,"v":2.2},{"s":3,"c":50.15,"v":2.28},
{"s":4,"c":9.3,"v":0.0004},{"s":4,"c":10.3,"v":0.0028},{"s":4,"c":11.3,"v":0.0112},{"s":4,"c":12.3,"v":0.0263},{"s":4,"c":13.3,"v":0.0537},{"s":4,"c":14.3,"v":0.107},{"s":4,"c":15.3,"v":0.186},{"s":4,"c":16.3,"v":0.3},{"s":4,"c":17.8,"v":0.48},{"s":4,"c":19.3,"v":0.68},{"s":4,"c":21.3,"v":0.97},{"s":4,"c":24.3,"v":1.32},{"s":4,"c":28.3,"v":1.65},{"s":4,"c":34.3,"v":1.97},{"s":4,"c":42.3,"v":2.2},{"s":4,"c":50.3,"v":2.28},
{"s":5,"c":11.85,"v":0.0004},{"s":5,"c":12.85,"v":0.0028},{"s":5,"c":13.85,"v":0.0112},{"s":5,"c":14.85,"v":0.0263},{"s":5,"c":15.85,"v":0.0537},{"s":5,"c":16.85,"v":0.107},{"s":5,"c":17.85,"v":0.186},{"s":5,"c":18.85,"v":0.3},{"s":5,"c":20.35,"v":0.48},{"s":5,"c":21.85,"v":0.68},{"s":5,"c":23.85,"v":0.97},{"s":5,"c":26.85,"v":1.32},{"s":5,"c":30.85,"v":1.65},{"s":5,"c":36.85,"v":1.97},{"s":5,"c":44.85,"v":2.2},{"s":5,"c":52.85,"v":2.28},
{"s":6,"c":12,"v":0.0004},{"s":6,"c":13,"v":0.0028},{"s":6,"c":14,"v":0.0112},{"s":6,"c":15,"v":0.0263},{"s":6,"c":16,"v":0.0537},{"s":6,"c":17,"v":0.107},{"s":6,"c":18,"v":0.186},{"s":6,"c":19,"v":0.3},{"s":6,"c":20.5,"v":0.48},{"s":6,"c":22,"v":0.68},{"s":6,"c":24,"v":0.97},{"s":6,"c":27,"v":1.32},{"s":6,"c":31,"v":1.65},{"s":6,"c":37,"v":1.97},{"s":6,"c":45,"v":2.2},{"s":6,"c":53,"v":2.28},
{"s":7,"c":12.15,"v":0.0004},{"s":7,"c":13.15,"v":0.0028},{"s":7,"c":14.15,"v":0.0112},{"s":7,"c":15.15,"v":0.0263},{"s":7,"c":16.15,"v":0.0537},{"s":7,"c":17.15,"v":0.107},{"s":7,"c":18.15,"v":0.186},{"s":7,"c":19.15,"v":0.3},{"s":7,"c":20.65,"v":0.48},{"s":7,"c":22.15,"v":0.68},{"s":7,"c":24.15,"v":0.97},{"s":7,"c":27.15,"v":1.32},{"s":7,"c":31.15,"v":1.65},{"s":7,"c":37.15,"v":1.97},{"s":7,"c":45.15,"v":2.2},
{"s":8,"c":14.95,"v":0.0004},{"s":8,"c":15.95,"v":0.0028},{"s":8,"c":16.95,"v":0.0112},{"s":8,"c":17.95,"v":0.0263},{"s":8,"c":18.95,"v":0.0537},{"s":8,"c":19.95,"v":0.107},{"s":8,"c":20.95,"v":0.186},{"s":8,"c":21.95,"v":0.3},{"s":8,"c":23.45,"v":0.48},{"s":8,"c":24.95,"v":0.68},{"s":8,"c":26.95,"v":0.97},{"s":8,"c":29.95,"v":1.32},{"s":8,"c":33.95,"v":1.65},{"s":8,"c":39.95,"v":1.97},{"s":8,"c":47.95,"v":2.2},
{"s":9,"c":15.1,"v":0.0004},{"s":9,"c":16.1,"v":0.0028},{"s":9,"c":17.1,"v":0.0112},{"s":9,"c":18.1,"v":0.0263},{"s":9,"c":19.1,"v":0.0537},{"s":9,"c":20.1,"v":0.107},{"s":9,"c":21.1,"v":0.186},{"s":9,"c":22.1,"v":0.3},{"s":9,"c":23.6,"v":0.48},{"s":9,"c":25.1,"v":0.68},{"s":9,"c":27.1,"v":0.97},{"s":9,"c":30.1,"v":1.32},{"s":9,"c":34.1,"v":1.65},{"s":9,"c":40.1,"v":1.97},{"s":9,"c":48.1,"v":2.2},
{"s":10,"c":15.25,"v":0.0004},{"s":10,"c":16.25,"v":0.0028},{"s":10,"c":17.25,"v":0.0112},{"s":10,"c":18.25,"v":0.0263},{"s":10,"c":19.25,"v":0.0537},{"s":10,"c":20.25,"v":0.107},{"s":10,"c":21.25,"v":0.186},{"s":10,"c":22.25,"v":0.3},{"s":10,"c":23.75,"v":0.48},{"s":10,"c":25.25,"v":0.68},{"s":10,"c":27.25,"v":0.97},{"s":10,"c":30.25,"v":1.32},{"s":10,"c":34.25,"v":1.65},{"s":10,"c":40.25,"v":1.97},{"s":10,"c":48.25,"v":2.2},
{"s":11,"c":18.15,"v":0.0004},{"s":11,"c":19.15,"v":0.0028},{"s":11,"c":20.15,"v":0.0112},{"s":11,"c":21.15,"v":0.0263},{"s":11,"c":22.15,"v":0.0537},{"s":11,"c":23.15,"v":0.107},{"s":11,"c":24.15,"v":0.186},{"s":11,"c":25.15,"v":0.3},{"s":11,"c":26.65,"v":0.48},{"s":11,"c":28.15,"v":0.68},{"s":11,"c":30.15,"v":0.97},{"s":11,"c":33.15,"v":1.32},{"s":11,"c":37.15,"v":1.65},{"s":11,"c":43.15,"v":1.97},{"s":11,"c":51.15,"v":2.2},
{"s":12,"c":18.3,"v":0.0004},{"s":12,"c":19.3,"v":0.0028},{"s":12,"c":20.3,"v":0.0112},{"s":12,"c":21.3,"v":0.0263},{"s":12,"c":22.3,"v":0.0537},{"s":12,"c":23.3,"v":0.107},{"s":12,"c":24.3,"v":0.186},{"s":12,"c":25.3,"v":0.3},{"s":12,"c":26.8,"v":0.48},{"s":12,"c":28.3,"v":0.68},{"s":12,"c":30.3,"v":0.97},{"s":12,"c":33.3,"v":1.32},{"s":12,"c":37.3,"v":1.65},{"s":12,"c":43.3,"v":1.97},{"s":12,"c":51.3,"v":2.2},
{"s":13,"c":18.45,"v":0.0004},{"s":13,"c":19.45,"v":0.0028},{"s":13,"c":20.45,"v":0.0112},{"s":13,"c":21.45,"v":0.0263},{"s":13,"c":22.45,"v":0.0537},{"s":13,"c":23.45,"v":0.107},{"s":13,"c":24.45,"v":0.186},{"s":13,"c":25.45,"v":0.3},{"s":13,"c":26.95,"v":0.48},{"s":13,"c":28.45,"v":0.68},{"s":13,"c":30.45,"v":0.97},{"s":13,"c":33.45,"v":1.32},{"s":13,"c":37.45,"v":1.65},{"s":13,"c":43.45,"v":1.97},{"s":13,"c":51.45,"v":2.2},
{"s":14,"c":21.05,"v":0.0004},{"s":14,"c":22.05,"v":0.0028},{"s":14,"c":23.05,"v":0.0112},{"s":14,"c":24.05,"v":0.0263},{"s":14,"c":25.05,"v":0.0537},{"s":14,"c":26.05,"v":0.107},{"s":14,"c":27.05,"v":0.186},{"s":14,"c":28.05,"v":0.3},{"s":14,"c":29.55,"v":0.48},{"s":14,"c":31.05,"v":0.68},{"s":14,"c":33.05,"v":0.97},{"s":14,"c":36.05,"v":1.32},{"s":14,"c":40.05,"v":1.65},{"s":14,"c":46.05,"v":1.97},
{"s":15,"c":21.35,"v":0.0004},{"s":15,"c":22.35,"v":0.0028},{"s":15,"c":23.35,"v":0.0112},{"s":15,"c":24.35,"v":0.0263},{"s":15,"c":25.35,"v":0.0537},{"s":15,"c":26.35,"v":0.107},{"s":15,"c":27.35,"v":0.186},{"s":15,"c":28.35,"v":0.3},{"s":15,"c":29.85,"v":0.48},{"s":15,"c":31.35,"v":0.68},{"s":15,"c":33.35,"v":0.97},{"s":15,"c":36.35,"v":1.32},{"s":15,"c":40.35,"v":1.65},{"s":15,"c":46.35,"v":1.97},
{"s":16,"c":21.65,"v":0.0004},{"s":16,"c":22.65,"v":0.0028},{"s":16,"c":23.65,"v":0.0112},{"s":16,"c":24.65,"v":0.0263},{"s":16,"c":25.65,"v":0.0537},{"s":16,"c":26.65,"v":0.107},{"s":16,"c":27.65,"v":0.186},{"s":16,"c":28.65,"v":0.3},{"s":16,"c":30.15,"v":0.48},{"s":16,"c":31.65,"v":0.68},{"s":16,"c":33.65,"v":0.97},{"s":16,"c":36.65,"v":1.32},{"s":16,"c":40.65,"v":1.65},{"s":16,"c":46.65,"v":1.97},
{"s":17,"c":21.95,"v":0.0004},{"s":17,"c":22.95,"v":0.0028},{"s":17,"c":23.95,"v":0.0112},{"s":17,"c":24.95,"v":0.0263},{"s":17,"c":25.95,"v":0.0537},{"s":17,"c":26.95,"v":0.107},{"s":17,"c":27.95,"v":0.186},{"s":17,"c":28.95,"v":0.3},{"s":17,"c":30.45,"v":0.48},{"s":17,"c":31.95,"v":0.68},{"s":17,"c":33.95,"v":0.97},{"s":17,"c":36.95,"v":1.32},{"s":17,"c":40.95,"v":1.65},{"s":17,"c":46.95,"v":1.97},
{"s":18,"c":25.25,"v":0.0004},{"s":18,"c":26.25,"v":0.0028},{"s":18,"c":27.25,"v":0.0112},{"s":18,"c":28.25,"v":0.0263},{"s":18,"c":29.25,"v":0.0537},{"s":18,"c":30.25,"v":0.107},{"s":18,"c":31.25,"v":0.186},{"s":18,"c":32.25,"v":0.3},{"s":18,"c":33.75,"v":0.48},{"s":18,"c":35.25,"v":0.68},{"s":18,"c":37.25,"v":0.97},{"s":18,"c":40.25,"v":1.32},{"s":18,"c":44.25,"v":1.65},{"s":18,"c":50.25,"v":1.97},
{"s":19,"c":25.75,"v":0.0004},{"s":19,"c":26.75,"v":0.0028},{"s":19,"c":27.75,"v":0.0112},{"s":19,"c":28.75,"v":0.0263},{"s":19,"c":29.75,"v":0.0537},{"s":19,"c":30.75,"v":0.107},{"s":19,"c":31.75,"v":0.186},{"s":19,"c":32.75,"v":0.3},{"s":19,"c":34.25,"v":0.48},{"s":19,"c":35.75,"v":0.68},{"s":19,"c":37.75,"v":0.97},{"s":19,"c":40.75,"v":1.32},{"s":19,"c":44.75,"v":1.65},{"s":19,"c":50.75,"v":1.97},
{"s":20,"c":26.25,"v":0.0004},{"s":20,"c":27.25,"v":0.0028},{"s":20,"c":28.25,"v":0.0112},{"s":20,"c":29.25,"v":0.0263},{"s":20,"c":30.25,"v":0.0537},{"s":20,"c":31.25,"v":0.107},{"s":20,"c":32.25,"v":0.186},{"s":20,"c":33.25,"v":0.3},{"s":20,"c":34.75,"v":0.48},{"s":20,"c":36.25,"v":0.68},{"s":20,"c":38.25,"v":0.97},{"s":20,"c":41.25,"v":1.32},{"s":20,"c":45.25,"v":1.65},
{"s":21,"c":26.75,"v":0.0004},{"s":21,"c":27.75,"v":0.0028},{"s":21,"c":28.75,"v":0.0112},{"s":21,"c":29.75,"v":0.0263},{"s":21,"c":30.75,"v":0.0537},{"s":21,"c":31.75,"v":0.107},{"s":21,"c":32.75,"v":0.186},{"s":21,"c":33.75,"v":0.3},{"s":21,"c":35.25,"v":0.48},{"s":21,"c":36.75,"v":0.68},{"s":21,"c":38.75,"v":0.97},{"s":21,"c":41.75,"v":1.32},{"s":21,"c":45.75,"v":1.65},
{"s":22,"c":27.25,"v":0.0004},{"s":22,"c":28.25,"v":0.0028},{"s":22,"c":29.25,"v":0.0112},{"s":22,"c":30.25,"v":0.0263},{"s":22,"c":31.25,"v":0.0537},{"s":22,"c":32.25,"v":0.107},{"s":22,"c":33.25,"v":0.186},{"s":22,"c":34.25,"v":0.3},{"s":22,"c":35.75,"v":0.48},{"s":22,"c":37.25,"v":0.68},{"s":22,"c":39.25,"v":0.97},{"s":22,"c":42.25,"v":1.32},{"s":22,"c":46.25,"v":1.65},
{"s":23,"c":28.35,"v":0.0004},{"s":23,"c":29.35,"v":0.0028},{"s":23,"c":30.35,"v":0.0112},{"s":23,"c":31.35,"v":0.0263},{"s":23,"c":32.35,"v":0.0537},{"s":23,"c":33.35,"v":0.107},{"s":23,"c":34.35,"v":0.186},{"s":23,"c":35.35,"v":0.3},{"s":23,"c":36.85,"v":0.48},{"s":23,"c":38.35,"v":0.68},{"s":23,"c":40.35,"v":0.97},{"s":23,"c":43.35,"v":1.32},{"s":23,"c":47.35,"v":1.65},
{"s":24,"c":29.15,"v":0.0004},{"s":24,"c":30.15,"v":0.0028},{"s":24,"c":31.15,"v":0.0112},{"s":24,"c":32.15,"v":0.0263},{"s":24,"c":33.15,"v":0.0537},{"s":24,"c":34.15,"v":0.107},{"s":24,"c":35.15,"v":0.186},{"s":24,"c":36.15,"v":0.3},{"s":24,"c":37.65,"v":0.48},{"s":24,"c":39.15,"v":0.68},{"s":24,"c":41.15,"v":0.97},{"s":24,"c":44.15,"v":1.32},{"s":24,"c":48.15,"v":1.65},
{"s":25,"c":29.75,"v":0.0004},{"s":25,"c":30.75,"v":0.0028},{"s":25,"c":31.75,"v":0.0112},{"s":25,"c":32.75,"v":0.0263},{"s":25,"c":33.75,"v":0.0537},{"s":25,"c":34.75,"v":0.107},{"s":25,"c":35.75,"v":0.186},{"s":25,"c":36.75,"v":0.3},{"s":25,"c":38.25,"v":0.48},{"s":25,"c":39.75,"v":0.68},{"s":25,"c":41.75,"v":0.97},{"s":25,"c":44.75,"v":1.32},{"s":25,"c":48.75,"v":1.65},
{"s":26,"c":34.15,"v":0.0004},{"s":26,"c":35.15,"v":0.0028},{"s":26,"c":36.15,"v":0.0112},{"s":26,"c":37.15,"v":0.0263},{"s":26,"c":38.15,"v":0.0537},{"s":26,"c":39.15,"v":0.107},{"s":26,"c":40.15,"v":0.186},{"s":26,"c":41.15,"v":0.3},{"s":26,"c":42.65,"v":0.48},{"s":26,"c":44.15,"v":0.68},{"s":26,"c":46.15,"v":0.97},
{"s":27,"c":40.5,"v":0.0015},{"s":27,"c":41.5,"v":0.0035},{"s":27,"c":42.5,"v":0.007},{"s":27,"c":43.5,"v":0.014},{"s":27,"c":45,"v":0.03}
],
"bpeFn":[
{"s":1,"c":1,"v":0.0071},{"s":1,"c":2,"v":0.0052},{"s":1,"c":3,"v":0.0038},{"s":1,"c":4,"v":0.0026},{"s":1,"c":5,"v":0.0018},{"s":1,"c":6,"v":0.0012},{"s":1,"c":7,"v":0.0008},
{"s":2,"c":1,"v":0.0062},{"s":2,"c":2,"v":0.0044},{"s":2,"c":3,"v":0.0049},{"s":2,"c":4,"v":0.0029},{"s":2,"c":5,"v":0.0033},{"s":2,"c":6,"v":0.0017},{"s":2,"c":7,"v":0.0022},{"s":2,"c":8,"v":0.0011},{"s":2,"c":9,"v":0.0008},
{"s":3,"c":1,"v":0.0053},{"s":3,"c":2,"v":0.0061},{"s":3,"c":3,"v":0.0032},{"s":3,"c":4,"v":0.0041},{"s":3,"c":5,"v":0.0021},{"s":3,"c":6,"v":0.0027},{"s":3,"c":7,"v":0.0014},{"s":3,"c":8,"v":0.0019},{"s":3,"c":9,"v":0.0011},{"s":3,"c":10,"v":0.0016},{"s":3,"c":11,"v":0.0008},
{"s":4,"c":1,"v":0.0044},{"s":4,"c":2,"v":0.0035},{"s":4,"c":3,"v":0.0027},{"s":4,"c":4,"v":0.0034},{"s":4,"c":5,"v":0.0025},{"s":4,"c":6,"v":0.0014},{"s":4,"c":7,"v":0.0026},{"s":4,"c":8,"v":0.0017},{"s":4,"c":9,"v":0.0023},{"s":4,"c":10,"v":0.0012},{"s":4,"c":11,"v":0.0019},{"s":4,"c":12,"v":0.0009},
{"s":5,"c":1,"v":0.0036},{"s":5,"c":2,"v":0.0024},{"s":5,"c":3,"v":0.0018},{"s":5,"c":4,"v":0.0012},{"s":5,"c":5,"v":0.0022},{"s":5,"c":6,"v":0.0031},{"s":5,"c":7,"v":0.0016},{"s":5,"c":8,"v":0.0028},{"s":5,"c":9,"v":0.0014},{"s":5,"c":10,"v":0.0025},{"s":5,"c":11,"v":0.0013},{"s":5,"c":12,"v":0.0018},{"s":5,"c":13,"v":0.0009},
{"s":6,"c":1,"v":0.0058},{"s":6,"c":2,"v":0.0038},{"s":6,"c":3,"v":0.0021},{"s":6,"c":4,"v":0.0015},{"s":6,"c":5,"v":0.0011},{"s":6,"c":6,"v":0.0019},{"s":6,"c":7,"v":0.0032},{"s":6,"c":8,"v":0.0021},{"s":6,"c":9,"v":0.0036},{"s":6,"c":10,"v":0.0018},{"s":6,"c":11,"v":0.0024},{"s":6,"c":12,"v":0.0014},{"s":6,"c":13,"v":0.0008},
{"s":7,"c":14,"v":0.0009},{"s":7,"c":15,"v":0.0014},{"s":7,"c":16,"v":0.0024},{"s":7,"c":17,"v":0.0012},{"s":7,"c":18,"v":0.0019},{"s":7,"c":19,"v":0.0028},{"s":7,"c":20,"v":0.0016},{"s":7,"c":21,"v":0.0022},{"s":7,"c":22,"v":0.0013},{"s":7,"c":23,"v":0.0019},{"s":7,"c":24,"v":0.0011},{"s":7,"c":25,"v":0.0016},{"s":7,"c":26,"v":0.0021},{"s":7,"c":27,"v":0.0012},{"s":7,"c":28,"v":0.0009},
{"s":8,"c":24,"v":0.0014},{"s":8,"c":25,"v":0.0021},{"s":8,"c":26,"v":0.0017},{"s":8,"c":27,"v":0.0024},{"s":8,"c":28,"v":0.0015},{"s":8,"c":29,"v":0.0019},{"s":8,"c":30,"v":0.0026},{"s":8,"c":31,"v":0.0016},{"s":8,"c":32,"v":0.0011},{"s":8,"c":33,"v":0.0008},
{"s":9,"c":31,"v":0.0016},{"s":9,"c":32,"v":0.0014},{"s":9,"c":33,"v":0.0013},{"s":9,"c":34,"v":0.0021},{"s":9,"c":35,"v":0.0017},{"s":9,"c":36,"v":0.0019},{"s":9,"c":37,"v":0.0024},{"s":9,"c":38,"v":0.0032},{"s":9,"c":39,"v":0.0048},{"s":9,"c":40,"v":0.0022},{"s":9,"c":41,"v":0.0013},{"s":9,"c":42,"v":0.0021},{"s":9,"c":43,"v":0.0017},{"s":9,"c":44,"v":0.0024},{"s":9,"c":45,"v":0.0011},
{"s":10,"c":1,"v":0.0067},{"s":10,"c":2,"v":0.0048},{"s":10,"c":3,"v":0.0056},{"s":10,"c":4,"v":0.0037},{"s":10,"c":5,"v":0.0041},{"s":10,"c":6,"v":0.0024},{"s":10,"c":7,"v":0.0018},{"s":10,"c":8,"v":0.0026},{"s":10,"c":9,"v":0.0015},{"s":10,"c":10,"v":0.0011},{"s":10,"c":11,"v":0.0008},
{"s":11,"c":1,"v":0.0049},{"s":11,"c":2,"v":0.0057},{"s":11,"c":3,"v":0.0043},{"s":11,"c":4,"v":0.0048},{"s":11,"c":5,"v":0.0029},{"s":11,"c":6,"v":0.0035},{"s":11,"c":7,"v":0.0021},{"s":11,"c":8,"v":0.0014},{"s":11,"c":9,"v":0.0021},{"s":11,"c":10,"v":0.0009},
{"s":12,"c":2,"v":0.0016},{"s":12,"c":3,"v":0.0024},{"s":12,"c":4,"v":0.0019},{"s":12,"c":5,"v":0.0028},{"s":12,"c":6,"v":0.0039},{"s":12,"c":7,"v":0.0023},{"s":12,"c":8,"v":0.0017},{"s":12,"c":9,"v":0.0027},{"s":12,"c":10,"v":0.0021},{"s":12,"c":11,"v":0.0014},{"s":12,"c":12,"v":0.0022},{"s":12,"c":13,"v":0.0012},{"s":12,"c":14,"v":0.0008}
]
},
"columns":2,
"spacing":{"row":18,"column":6},
"bounds":"flush",
"resolve":{"scale":{"x":"independent","y":"independent","color":"independent"}},
"concat":[
{"width":665,"height":329,"layer":[
{"data":{"name":"amrBn"},"mark":{"type":"line","clip":true,"strokeWidth":1},"encoding":{"x":{"field":"c","type":"quantitative","scale":{"domain":[1,45]},"axis":{"values":[2,4,6,8,10,12,14,16,18,20,22,24,26,28,30,32,34,36,38,40,42,44],"tickCount":60,"title":null,"labelFlush":false,"labelOverlap":false}},"y":{"field":"v","type":"quantitative","scale":{"type":"log","domain":[0.001,10]},"axis":{"values":[0.001,0.002,0.003,0.004,0.005,0.006,0.007,0.008,0.009,0.01,0.02,0.03,0.04,0.05,0.06,0.07,0.08,0.09,0.1,0.2,0.3,0.4,0.5,0.6,0.7,0.8,0.9,1,2,3,4,5,6,7,8,9,10],"tickCount":60,"labelExpr":"datum.value == 10 ? '1E01' : datum.value == 1 ? '1E00' : datum.value == 0.1 ? '0.1' : datum.value == 0.01 ? '0.01' : datum.value == 0.001 ? '0.001' : ''","labelFlush":false,"labelOverlap":false,"title":"ΔRn"}},"detail":{"field":"s"},"color":{"datum":"amrB","type":"nominal","scale":{"domain":["amrB","bpeB","bpeF"],"range":["#1dc6f2","#ff9a00","#ff00ff"]},"legend":{"orient":"top-left","title":null,"symbolType":"square","symbolSize":64,"symbolStrokeWidth":8,"symbolOpacity":1,"symbolDash":[],"labelFontSize":20,"labelFont":"Liberation Sans","labelFontStyle":"italic","labelFontWeight":"bold","labelColor":"#000000","rowPadding":-7,"labelOffset":5,"offset":14,"padding":0}}}},
{"data":{"name":"bpeFn"},"mark":{"type":"line","clip":true,"strokeWidth":1},"encoding":{"x":{"field":"c","type":"quantitative"},"y":{"field":"v","type":"quantitative","scale":{"type":"log"}},"detail":{"field":"s"},"color":{"datum":"bpeF","type":"nominal"}}},
{"data":{"name":"bpeBn"},"mark":{"type":"line","clip":true,"strokeWidth":1},"encoding":{"x":{"field":"c","type":"quantitative"},"y":{"field":"v","type":"quantitative","scale":{"type":"log"}},"detail":{"field":"s"},"color":{"datum":"bpeB","type":"nominal"}}},
{"data":{"name":"amrB"},"mark":{"type":"line","clip":true,"strokeWidth":1,"interpolate":"monotone"},"encoding":{"x":{"field":"c","type":"quantitative"},"y":{"field":"v","type":"quantitative","scale":{"type":"log"}},"detail":{"field":"s"},"color":{"datum":"amrB","type":"nominal"}}},
{"data":{"name":"bpeF"},"mark":{"type":"line","clip":true,"strokeWidth":1,"interpolate":"monotone"},"encoding":{"x":{"field":"c","type":"quantitative"},"y":{"field":"v","type":"quantitative","scale":{"type":"log"}},"detail":{"field":"s"},"color":{"datum":"bpeF","type":"nominal"}}},
{"data":{"name":"bpeB"},"mark":{"type":"line","clip":true,"strokeWidth":1,"interpolate":"monotone"},"encoding":{"x":{"field":"c","type":"quantitative"},"y":{"field":"v","type":"quantitative","scale":{"type":"log"}},"detail":{"field":"s"},"color":{"datum":"bpeB","type":"nominal"}}},
{"data":{"values":[{}]},"mark":{"type":"rule","color":"#1dc6f2","strokeWidth":3},"encoding":{"y":{"datum":0.107083,"type":"quantitative"}}},
{"data":{"values":[{}]},"mark":{"type":"rule","color":"#ff00ff","strokeWidth":3},"encoding":{"y":{"datum":0.095715,"type":"quantitative"}}},
{"data":{"values":[{}]},"mark":{"type":"rule","color":"#ff9a00","strokeWidth":3},"encoding":{"y":{"datum":0.050723,"type":"quantitative"}}},
{"data":{"values":[{}]},"mark":{"type":"text","text":"0.107083","font":"Liberation Serif","fontSize":13,"fontWeight":"bold","color":"#ff0000","align":"left","baseline":"alphabetic","dy":-4},"encoding":{"x":{"datum":1.1,"type":"quantitative"},"y":{"datum":0.107083,"type":"quantitative"}}},
{"data":{"values":[{}]},"mark":{"type":"text","text":"0.095715","font":"Liberation Serif","fontSize":13,"fontWeight":"bold","color":"#ff0000","align":"left","baseline":"alphabetic","dy":-3},"encoding":{"x":{"datum":1.1,"type":"quantitative"},"y":{"datum":0.095715,"type":"quantitative"}}},
{"data":{"values":[{}]},"mark":{"type":"text","text":"0.050723","font":"Liberation Serif","fontSize":13,"fontWeight":"bold","color":"#ff0000","align":"left","baseline":"alphabetic","dy":-3},"encoding":{"x":{"datum":1.1,"type":"quantitative"},"y":{"datum":0.050723,"type":"quantitative"}}},
{"data":{"values":[{}]},"mark":{"type":"text","text":"A","fontSize":26,"fontWeight":"bold","baseline":"middle"},"encoding":{"x":{"datum":38.52,"type":"quantitative"},"y":{"datum":5.4,"type":"quantitative"}}}
]},
{"width":664,"height":329,"layer":[
{"data":{"name":"bpeBn"},"mark":{"type":"line","clip":true,"strokeWidth":1,"color":"#ff9a00"},"encoding":{"x":{"field":"c","type":"quantitative","scale":{"domain":[1,45]},"axis":{"values":[2,4,6,8,10,12,14,16,18,20,22,24,26,28,30,32,34,36,38,40,42,44],"tickCount":60,"title":null,"labelFlush":false,"labelOverlap":false}},"y":{"field":"v","type":"quantitative","scale":{"type":"log","domain":[0.001,10]},"axis":{"values":[0.001,0.002,0.003,0.004,0.005,0.006,0.007,0.008,0.009,0.01,0.02,0.03,0.04,0.05,0.06,0.07,0.08,0.09,0.1,0.2,0.3,0.4,0.5,0.6,0.7,0.8,0.9,1,2,3,4,5,6,7,8,9,10],"tickCount":60,"labels":false,"title":null}},"detail":{"field":"s"}}},
{"data":{"name":"bpeB"},"mark":{"type":"line","clip":true,"strokeWidth":1,"interpolate":"monotone","color":"#ff9a00"},"encoding":{"x":{"field":"c","type":"quantitative"},"y":{"field":"v","type":"quantitative","scale":{"type":"log"}},"detail":{"field":"s"}}},
{"data":{"values":[{}]},"mark":{"type":"rule","color":"#ff9a00","strokeWidth":3},"encoding":{"y":{"datum":0.050723,"type":"quantitative"}}},
{"data":{"values":[{}]},"mark":{"type":"text","text":"0.050723","font":"Liberation Serif","fontSize":13,"fontWeight":"bold","color":"#ff0000","align":"left","baseline":"alphabetic","dy":-3},"encoding":{"x":{"datum":1.1,"type":"quantitative"},"y":{"datum":0.050723,"type":"quantitative"}}},
{"data":{"values":[{}]},"mark":{"type":"text","text":"B","fontSize":26,"fontWeight":"bold","baseline":"middle"},"encoding":{"x":{"datum":41.69,"type":"quantitative"},"y":{"datum":5.6,"type":"quantitative"}}},
{"data":{"values":[{}]},"mark":{"type":"text","text":"LoQ","fontSize":21,"fontWeight":"bold","baseline":"middle"},"encoding":{"x":{"datum":15.51,"type":"quantitative"},"y":{"datum":1.92,"type":"quantitative"}}},
{"data":{"values":[{}]},"mark":{"type":"rule","color":"#000000","strokeWidth":2},"encoding":{"x":{"datum":17.61,"type":"quantitative"},"y":{"datum":1.49,"type":"quantitative"},"x2":{"datum":30.14},"y2":{"datum":0.0809}}},
{"data":{"values":[{}]},"mark":{"type":"point","shape":"triangle-up","filled":true,"color":"#000000","opacity":1,"size":130,"angle":119},"encoding":{"x":{"datum":30.14,"type":"quantitative"},"y":{"datum":0.0809,"type":"quantitative"}}},
{"data":{"values":[{}]},"mark":{"type":"text","text":"{","font":"Liberation Serif","fontSize":40,"fontWeight":"bold","angle":25,"baseline":"middle"},"encoding":{"x":{"datum":31.09,"type":"quantitative"},"y":{"datum":0.0528,"type":"quantitative"}}},
{"data":{"values":[{}]},"mark":{"type":"text","text":"}","font":"Liberation Serif","fontSize":40,"fontWeight":"bold","angle":25,"baseline":"middle"},"encoding":{"x":{"datum":32.96,"type":"quantitative"},"y":{"datum":0.0503,"type":"quantitative"}}},
{"data":{"values":[{}]},"mark":{"type":"text","text":"{","font":"Liberation Serif","fontSize":40,"fontWeight":"bold","angle":25,"baseline":"middle"},"encoding":{"x":{"datum":34.73,"type":"quantitative"},"y":{"datum":0.0731,"type":"quantitative"}}},
{"data":{"values":[{}]},"mark":{"type":"text","text":"}","font":"Liberation Serif","fontSize":40,"fontWeight":"bold","angle":25,"baseline":"middle"},"encoding":{"x":{"datum":37.38,"type":"quantitative"},"y":{"datum":0.058,"type":"quantitative"}}},
{"data":{"values":[{}]},"mark":{"type":"text","text":"LoD","fontSize":21,"fontWeight":"bold","baseline":"middle"},"encoding":{"x":{"datum":41.18,"type":"quantitative"},"y":{"datum":0.00745,"type":"quantitative"}}},
{"data":{"values":[{}]},"mark":{"type":"rule","color":"#000000","strokeWidth":2},"encoding":{"x":{"datum":41.69,"type":"quantitative"},"y":{"datum":0.0113,"type":"quantitative"},"x2":{"datum":38.55},"y2":{"datum":0.039}}},
{"data":{"values":[{}]},"mark":{"type":"point","shape":"triangle-up","filled":true,"color":"#000000","opacity":1,"size":130,"angle":313},"encoding":{"x":{"datum":38.55,"type":"quantitative"},"y":{"datum":0.039,"type":"quantitative"}}}
]},
{"width":665,"height":328,"layer":[
{"data":{"name":"amrBn"},"mark":{"type":"line","clip":true,"strokeWidth":1,"color":"#1dc6f2"},"encoding":{"x":{"field":"c","type":"quantitative","scale":{"domain":[1,45]},"axis":{"values":[2,4,6,8,10,12,14,16,18,20,22,24,26,28,30,32,34,36,38,40,42,44],"tickCount":60,"title":"Cycle","labelFlush":false,"labelOverlap":false}},"y":{"field":"v","type":"quantitative","scale":{"type":"log","domain":[0.001,10]},"axis":{"values":[0.001,0.002,0.003,0.004,0.005,0.006,0.007,0.008,0.009,0.01,0.02,0.03,0.04,0.05,0.06,0.07,0.08,0.09,0.1,0.2,0.3,0.4,0.5,0.6,0.7,0.8,0.9,1,2,3,4,5,6,7,8,9,10],"tickCount":60,"labelExpr":"datum.value == 10 ? '1E01' : datum.value == 1 ? '1E00' : datum.value == 0.1 ? '0.1' : datum.value == 0.01 ? '0.01' : datum.value == 0.001 ? '0.001' : ''","labelFlush":false,"labelOverlap":false,"title":"ΔRn"}},"detail":{"field":"s"}}},
{"data":{"name":"amrB"},"mark":{"type":"line","clip":true,"strokeWidth":1,"interpolate":"monotone","color":"#1dc6f2"},"encoding":{"x":{"field":"c","type":"quantitative"},"y":{"field":"v","type":"quantitative","scale":{"type":"log"}},"detail":{"field":"s"}}},
{"data":{"values":[{}]},"mark":{"type":"rule","color":"#1dc6f2","strokeWidth":3},"encoding":{"y":{"datum":0.107083,"type":"quantitative"}}},
{"data":{"values":[{}]},"mark":{"type":"text","text":"0.107083","font":"Liberation Serif","fontSize":13,"fontWeight":"bold","color":"#ff0000","align":"left","baseline":"alphabetic","dy":-3},"encoding":{"x":{"datum":1.1,"type":"quantitative"},"y":{"datum":0.107083,"type":"quantitative"}}},
{"data":{"values":[{}]},"mark":{"type":"text","text":"C","fontSize":26,"fontWeight":"bold","baseline":"middle"},"encoding":{"x":{"datum":37.33,"type":"quantitative"},"y":{"datum":5.75,"type":"quantitative"}}},
{"data":{"values":[{}]},"mark":{"type":"text","text":"LoQ","fontSize":21,"fontWeight":"bold","baseline":"middle"},"encoding":{"x":{"datum":15.45,"type":"quantitative"},"y":{"datum":2.26,"type":"quantitative"}}},
{"data":{"values":[{}]},"mark":{"type":"rule","color":"#000000","strokeWidth":2},"encoding":{"x":{"datum":17.33,"type":"quantitative"},"y":{"datum":1.55,"type":"quantitative"},"x2":{"datum":27.95},"y2":{"datum":0.188}}},
{"data":{"values":[{}]},"mark":{"type":"point","shape":"triangle-up","filled":true,"color":"#000000","opacity":1,"size":130,"angle":115},"encoding":{"x":{"datum":27.95,"type":"quantitative"},"y":{"datum":0.188,"type":"quantitative"}}},
{"data":{"values":[{}]},"mark":{"type":"text","text":"{","font":"Liberation Serif","fontSize":40,"fontWeight":"bold","angle":25,"baseline":"middle"},"encoding":{"x":{"datum":28.91,"type":"quantitative"},"y":{"datum":0.13,"type":"quantitative"}}},
{"data":{"values":[{}]},"mark":{"type":"text","text":"}","font":"Liberation Serif","fontSize":40,"fontWeight":"bold","angle":25,"baseline":"middle"},"encoding":{"x":{"datum":30.23,"type":"quantitative"},"y":{"datum":0.118,"type":"quantitative"}}},
{"data":{"values":[{}]},"mark":{"type":"text","text":"{","font":"Liberation Serif","fontSize":40,"fontWeight":"bold","angle":25,"baseline":"middle"},"encoding":{"x":{"datum":32.88,"type":"quantitative"},"y":{"datum":0.164,"type":"quantitative"}}},
{"data":{"values":[{}]},"mark":{"type":"text","text":"}","font":"Liberation Serif","fontSize":40,"fontWeight":"bold","angle":25,"baseline":"middle"},"encoding":{"x":{"datum":34.75,"type":"quantitative"},"y":{"datum":0.136,"type":"quantitative"}}},
{"data":{"values":[{}]},"mark":{"type":"text","text":"LoD","fontSize":21,"fontWeight":"bold","baseline":"middle"},"encoding":{"x":{"datum":35.08,"type":"quantitative"},"y":{"datum":0.01375,"type":"quantitative"}}},
{"data":{"values":[{}]},"mark":{"type":"rule","color":"#000000","strokeWidth":2},"encoding":{"x":{"datum":35.7,"type":"quantitative"},"y":{"datum":0.023,"type":"quantitative"},"x2":{"datum":35.35},"y2":{"datum":0.0869}}},
{"data":{"values":[{}]},"mark":{"type":"point","shape":"triangle-up","filled":true,"color":"#000000","opacity":1,"size":130,"angle":354},"encoding":{"x":{"datum":35.35,"type":"quantitative"},"y":{"datum":0.0869,"type":"quantitative"}}}
]},
{"width":664,"height":328,"layer":[
{"data":{"name":"bpeFn"},"mark":{"type":"line","clip":true,"strokeWidth":1,"color":"#ff00ff"},"encoding":{"x":{"field":"c","type":"quantitative","scale":{"domain":[1,45]},"axis":{"values":[2,4,6,8,10,12,14,16,18,20,22,24,26,28,30,32,34,36,38,40,42,44],"tickCount":60,"title":"Cycle","labelFlush":false,"labelOverlap":false}},"y":{"field":"v","type":"quantitative","scale":{"type":"log","domain":[0.001,10]},"axis":{"values":[0.001,0.002,0.003,0.004,0.005,0.006,0.007,0.008,0.009,0.01,0.02,0.03,0.04,0.05,0.06,0.07,0.08,0.09,0.1,0.2,0.3,0.4,0.5,0.6,0.7,0.8,0.9,1,2,3,4,5,6,7,8,9,10],"tickCount":60,"labels":false,"title":null}},"detail":{"field":"s"}}},
{"data":{"name":"bpeF"},"mark":{"type":"line","clip":true,"strokeWidth":1,"interpolate":"monotone","color":"#ff00ff"},"encoding":{"x":{"field":"c","type":"quantitative"},"y":{"field":"v","type":"quantitative","scale":{"type":"log"}},"detail":{"field":"s"}}},
{"data":{"values":[{}]},"mark":{"type":"rule","color":"#ff00ff","strokeWidth":3},"encoding":{"y":{"datum":0.095715,"type":"quantitative"}}},
{"data":{"values":[{}]},"mark":{"type":"text","text":"0.095715","font":"Liberation Serif","fontSize":13,"fontWeight":"bold","color":"#ff0000","align":"left","baseline":"alphabetic","dy":-3},"encoding":{"x":{"datum":1.1,"type":"quantitative"},"y":{"datum":0.095715,"type":"quantitative"}}},
{"data":{"values":[{}]},"mark":{"type":"text","text":"D","fontSize":26,"fontWeight":"bold","baseline":"middle"},"encoding":{"x":{"datum":39.81,"type":"quantitative"},"y":{"datum":5.75,"type":"quantitative"}}},
{"data":{"values":[{}]},"mark":{"type":"text","text":"LoQ","fontSize":21,"fontWeight":"bold","baseline":"middle"},"encoding":{"x":{"datum":15.29,"type":"quantitative"},"y":{"datum":2.26,"type":"quantitative"}}},
{"data":{"values":[{}]},"mark":{"type":"rule","color":"#000000","strokeWidth":2},"encoding":{"x":{"datum":17.06,"type":"quantitative"},"y":{"datum":1.55,"type":"quantitative"},"x2":{"datum":25.01},"y2":{"datum":0.18}}},
{"data":{"values":[{}]},"mark":{"type":"point","shape":"triangle-up","filled":true,"color":"#000000","opacity":1,"size":130,"angle":123},"encoding":{"x":{"datum":25.01,"type":"quantitative"},"y":{"datum":0.18,"type":"quantitative"}}},
{"data":{"values":[{}]},"mark":{"type":"text","text":"{","font":"Liberation Serif","fontSize":40,"fontWeight":"bold","angle":25,"baseline":"middle"},"encoding":{"x":{"datum":25.57,"type":"quantitative"},"y":{"datum":0.103,"type":"quantitative"}}},
{"data":{"values":[{}]},"mark":{"type":"text","text":"}","font":"Liberation Serif","fontSize":40,"fontWeight":"bold","angle":25,"baseline":"middle"},"encoding":{"x":{"datum":27.0,"type":"quantitative"},"y":{"datum":0.098,"type":"quantitative"}}},
{"data":{"values":[{}]},"mark":{"type":"text","text":"{","font":"Liberation Serif","fontSize":40,"fontWeight":"bold","angle":25,"baseline":"middle"},"encoding":{"x":{"datum":29.98,"type":"quantitative"},"y":{"datum":0.103,"type":"quantitative"}}},
{"data":{"values":[{}]},"mark":{"type":"text","text":"}","font":"Liberation Serif","fontSize":40,"fontWeight":"bold","angle":25,"baseline":"middle"},"encoding":{"x":{"datum":33.74,"type":"quantitative"},"y":{"datum":0.0814,"type":"quantitative"}}},
{"data":{"values":[{}]},"mark":{"type":"text","text":"LoD","fontSize":21,"fontWeight":"bold","baseline":"middle"},"encoding":{"x":{"datum":37.93,"type":"quantitative"},"y":{"datum":0.01375,"type":"quantitative"}}},
{"data":{"values":[{}]},"mark":{"type":"rule","color":"#000000","strokeWidth":2},"encoding":{"x":{"datum":37.71,"type":"quantitative"},"y":{"datum":0.021,"type":"quantitative"},"x2":{"datum":34.79},"y2":{"datum":0.0755}}},
{"data":{"values":[{}]},"mark":{"type":"point","shape":"triangle-up","filled":true,"color":"#000000","opacity":1,"size":130,"angle":316},"encoding":{"x":{"datum":34.79,"type":"quantitative"},"y":{"datum":0.0755,"type":"quantitative"}}}
]}
]
}
